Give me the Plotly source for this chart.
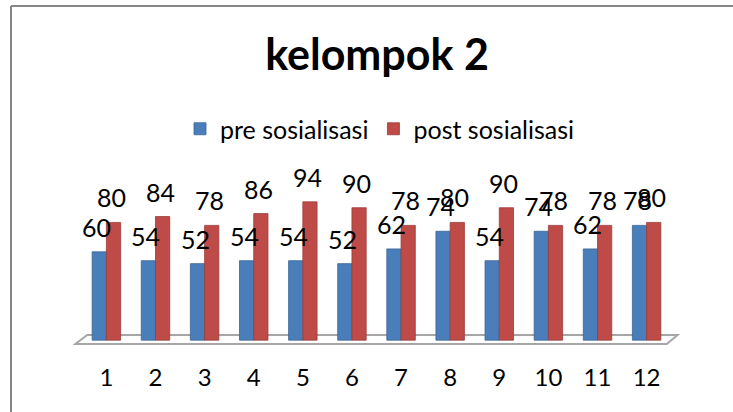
import plotly.graph_objects as go

# ---- data ----
categories = [1, 2, 3, 4, 5, 6, 7, 8, 9, 10, 11, 12]
tick_labels = ["1", "2", "3", "4", "5", "6", "7", "8", "9", "10", "11", "12"]
pre_values = [60, 54, 52, 54, 54, 52, 62, 74, 54, 74, 62, 78]
post_values = [80, 84, 78, 86, 94, 90, 78, 80, 90, 78, 78, 80]
series_names = ["pre sosialisasi", "post sosialisasi"]
title_text = "kelompok 2"

# ---- style ----
W, H = 733, 412
ML, MR, MT, MB = 72, 52, 193, 63
FONT = "Lato, 'Liberation Sans', Arial, sans-serif"
BLUE = "#4A7EBB"
RED = "#BE4B48"
BAR_W = 0.29

fig = go.Figure()
fig.add_trace(go.Bar(
    x=categories, y=pre_values, name=series_names[0],
    marker=dict(color=BLUE, line=dict(color="#3A6496", width=0.8)),
    width=BAR_W, offset=-BAR_W, cliponaxis=False,
))
fig.add_trace(go.Bar(
    x=categories, y=post_values, name=series_names[1],
    marker=dict(color=RED, line=dict(color="#9A3B39", width=0.8)),
    width=BAR_W, offset=0, cliponaxis=False,
))

# data labels, placed from the data values
annotations = []
for c, v in zip(categories, pre_values):
    annotations.append(dict(x=c - BAR_W / 2 - 0.05, y=v, xref="x", yref="y", text=str(v),
                            showarrow=False, yshift=25, font=dict(size=25, color="black", family=FONT)))
for c, v in zip(categories, post_values):
    annotations.append(dict(x=c + BAR_W / 2 - 0.05, y=v, xref="x", yref="y", text=str(v),
                            showarrow=False, yshift=25, font=dict(size=25, color="black", family=FONT)))

# 3D-like floor under the bars
fx0b, fx1b = categories[0] - 0.63, categories[-1] + 0.41
fx0t, fx1t = categories[0] - 0.39, categories[-1] + 0.63
fyb, fyt = -2.6, 3.5
floor_path = f"M {fx0b},{fyb} L {fx1b},{fyb} L {fx1t},{fyt} L {fx0t},{fyt} Z"

# outer chart border (pixel -> paper): only top and left edges are visible
pw = W - ML - MR
ph = H - MT - MB
def px_to_paper_x(px):
    return (px - ML) / pw
def px_to_paper_y(py):
    return (H - MB - py) / ph

shapes = [
    dict(type="path", path=floor_path, xref="x", yref="y", fillcolor="white",
         line=dict(color="#A6A6A6", width=2), layer="below"),
    dict(type="line", xref="paper", yref="paper",
         x0=px_to_paper_x(11), y0=px_to_paper_y(6),
         x1=px_to_paper_x(W), y1=px_to_paper_y(6),
         line=dict(color="#868686", width=2), layer="below"),
    dict(type="line", xref="paper", yref="paper",
         x0=px_to_paper_x(11), y0=px_to_paper_y(6),
         x1=px_to_paper_x(11), y1=px_to_paper_y(H),
         line=dict(color="#868686", width=2), layer="below"),
]

fig.update_layout(
    width=W, height=H,
    margin=dict(l=ML, r=MR, t=MT, b=MB, autoexpand=False),
    paper_bgcolor="white", plot_bgcolor="white",
    font=dict(family=FONT, color="black"),
    title=dict(text=f"<b>{title_text}</b>", x=377 / W, xanchor="center",
               y=1 - 55 / H, yanchor="middle", yref="container",
               font=dict(size=43, family=FONT, color="black")),
    barmode="overlay",
    showlegend=True,
    legend=dict(orientation="h", x=px_to_paper_x(380), xanchor="center",
                y=px_to_paper_y(129), yanchor="middle",
                font=dict(size=25, family=FONT), itemwidth=30,
                bgcolor="rgba(0,0,0,0)"),
    xaxis=dict(range=[categories[0] - 0.7, categories[-1] + 0.7],
               tickmode="array", tickvals=categories, ticktext=tick_labels,
               tickfont=dict(size=24, family=FONT), showgrid=False, zeroline=False,
               showline=False, ticks="", ticklabelstandoff=12, automargin=False),
    yaxis=dict(range=[-6, 100], visible=False, showgrid=False, zeroline=False,
               automargin=False),
    annotations=annotations,
    shapes=shapes,
)

fig.write_html("out.html", config={"displayModeBar": False},
               post_script="document.body.style.margin='0px';")
